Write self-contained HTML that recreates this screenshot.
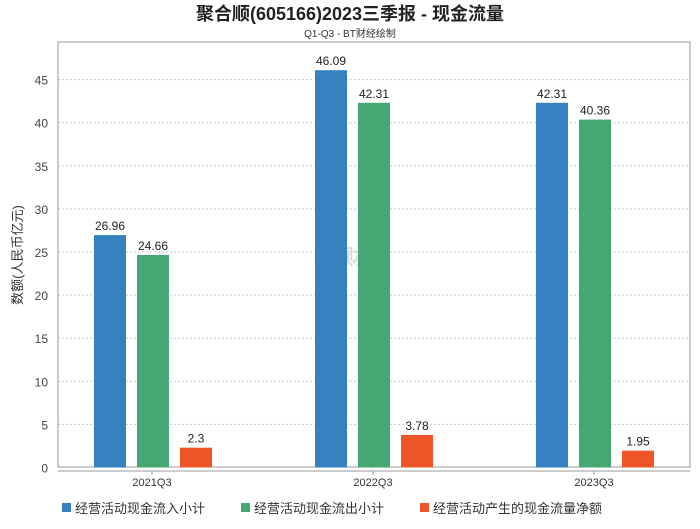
<!DOCTYPE html>
<html><head><meta charset="utf-8"><style>
body{margin:0;background:#fff;font-family:"Liberation Sans","Noto Sans CJK SC",sans-serif}
svg text{font-family:"Liberation Sans","Noto Sans CJK SC",sans-serif}
</style></head><body>
<svg id="c" width="700" height="524">
<text x="350" y="20" text-anchor="middle" font-size="18" font-weight="bold" fill="#222">聚合顺(605166)2023三季报 - 现金流量</text>
<text x="350" y="37" text-anchor="middle" font-size="10" fill="#333">Q1-Q3 - BT财经绘制</text>
<g id="grid"></g>
<rect x="58" y="42" width="632" height="425" fill="none" stroke="#999"/>
<line x1="58" y1="471" x2="690" y2="471" stroke="#999"/>
<text x="350" y="265" text-anchor="middle" font-size="22" fill="#ddd" font-weight="bold">BT财经</text>
<text transform="translate(22,255) rotate(-90)" text-anchor="middle" font-size="13" fill="#333">数额(人民币亿元)</text>
<g id="bars"></g>
<g font-size="13" fill="#333">
<rect x="62" y="503" width="9" height="9" fill="#3580bf"/>
<text x="75" y="513">经营活动现金流入小计</text>
<rect x="241" y="503" width="9" height="9" fill="#45a874"/>
<text x="254" y="513">经营活动现金流出小计</text>
<rect x="420" y="503" width="9" height="9" fill="#f05527"/>
<text x="433" y="513">经营活动产生的现金流量净额</text>
</g>
</svg>
<script>
const categories=["2021Q3","2022Q3","2023Q3"];
const inflow=[26.96,46.09,42.31];
const outflow=[24.66,42.31,40.36];
const netFlow=[2.3,3.78,1.95];
const yTicks=[0,5,10,15,20,25,30,35,40,45];
const ns="http://www.w3.org/2000/svg";
const y0=467.5, pxPer=8.62;
function y(v){return y0-v*pxPer;}
function x(i){return 152+i*221;}
const grid=document.getElementById('grid'),bars=document.getElementById('bars');
function mk(tag,attrs,p){const e=document.createElementNS(ns,tag);for(const k in attrs)e.setAttribute(k,attrs[k]);p.appendChild(e);return e;}
yTicks.forEach(t=>{
 if(t>0){const l=mk('line',{x1:58,x2:690,y1:y(t),y2:y(t),stroke:'#ccc','stroke-dasharray':'2,2'},grid);
 
 }
 const tx=mk('text',{x:48,y:y(t)+5,'text-anchor':'end','font-size':12,fill:'#444'},grid);tx.textContent=t;
 
 
});
const series=[[inflow,'#3580bf','inflow'],[outflow,'#45a874','outflow'],[netFlow,'#f05527','net']];
categories.forEach((c,i)=>{
 const cx=x(i);
 const tk=mk('line',{x1:cx,x2:cx,y1:471,y2:475,stroke:'#999'},grid);
 
 
 const lb=mk('text',{x:cx,y:486,'text-anchor':'middle','font-size':11,fill:'#333'},grid);lb.textContent=c;
 
 
 series.forEach((s,j)=>{
  const v=s[0][i];const bx=cx-58+j*43;
  const r=mk('rect',{x:bx,y:y(v),width:32,height:y0-y(v),fill:s[1]},bars);
  
  
  const t=mk('text',{x:bx+16,y:y(v)-5,'text-anchor':'middle','font-size':12,fill:'#222'},bars);t.textContent=v;
  
  
 });
});
</script>
</body></html>
